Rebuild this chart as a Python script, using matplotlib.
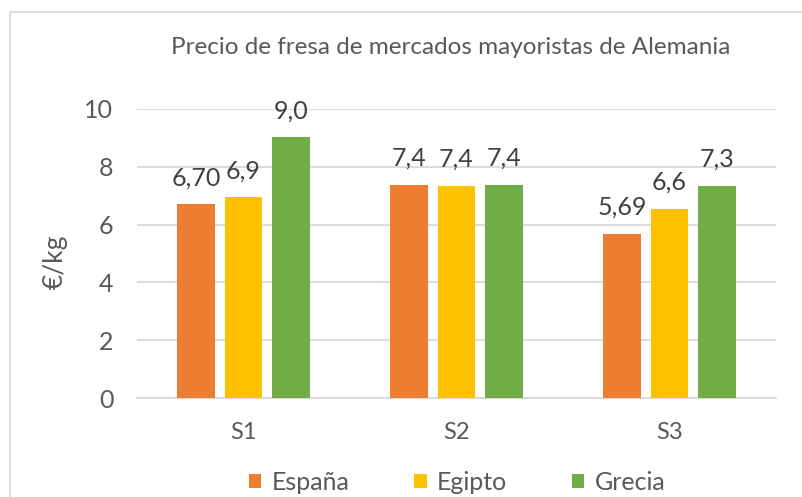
import numpy as np
import matplotlib
matplotlib.use('Agg')
import matplotlib.pyplot as plt
from matplotlib.patches import Rectangle

# Datos del gráfico
categorias = ['S1', 'S2', 'S3']
paises = ['España', 'Egipto', 'Grecia']
espana = [6.70, 7.38, 5.69]
egipto = [6.94, 7.35, 6.55]
grecia = [9.03, 7.38, 7.35]
etiquetas_espana = ['6,70', '7,4', '5,69']
etiquetas_egipto = ['6,9', '7,4', '6,6']
etiquetas_grecia = ['9,0', '7,4', '7,3']
colores = ['#ED7D31', '#FFC000', '#70AD47']

plt.rcParams['font.family'] = ['Lato', 'DejaVu Sans']
gris = '#595959'

fig = plt.figure(figsize=(8.03, 4.97), dpi=100)
# marco del gráfico
fig.patches.append(Rectangle((10 / 803, -0.1), 1.0, 1 - 12 / 497 + 0.1,
                             transform=fig.transFigure, fill=False,
                             edgecolor='#D9D9D9', linewidth=1.3))

ax = fig.add_axes([137 / 803, 1 - 398 / 497, 639 / 803, 289 / 497])

x = np.arange(len(categorias))
ancho = 0.175
paso = 0.223
series = [espana, egipto, grecia]
etiquetas = [etiquetas_espana, etiquetas_egipto, etiquetas_grecia]

for i, (valores, etq) in enumerate(zip(series, etiquetas)):
    pos = x + (i - 1) * paso
    barras = ax.bar(pos, valores, width=ancho, color=colores[i], label=paises[i], zorder=3)
    for b, t in zip(barras, etq):
        ax.annotate(t, (b.get_x() + b.get_width() / 2, b.get_height()),
                    xytext=(0, 13.5), textcoords='offset points',
                    ha='center', va='baseline', fontsize=18, color='#404040')

ax.set_xlim(-0.5, 2.5)
ax.set_ylim(0, 10)
ax.set_yticks(range(0, 11, 2))
ax.set_xticks(x)
ax.set_xticklabels(categorias)
ax.yaxis.grid(True, color='#D9D9D9', linewidth=1.3, zorder=0)
ax.tick_params(axis='both', length=0, labelsize=17, colors=gris)
ax.tick_params(axis='y', pad=17, labelsize=18)
ax.tick_params(axis='x', pad=17)
for lado in ['top', 'right', 'left']:
    ax.spines[lado].set_visible(False)
ax.spines['bottom'].set_color('#D9D9D9')
ax.spines['bottom'].set_linewidth(1.3)

fig.text(55 / 803, 1 - 262 / 497, '€/kg', rotation=90, ha='center', va='center',
         fontsize=19, color=gris)
fig.text(451 / 803, 1 - 47 / 497, 'Precio de fresa de mercados mayoristas de Alemania',
         ha='center', va='center', fontsize=17.5, color=gris)

fig.legend(loc='center', bbox_to_anchor=(457 / 803, 1 - 482 / 497), ncol=3,
           frameon=False, fontsize=18, handlelength=0.5, handleheight=0.5,
           columnspacing=2.6, handletextpad=0.4, labelcolor=gris)

fig.savefig('out.png', dpi=100)
